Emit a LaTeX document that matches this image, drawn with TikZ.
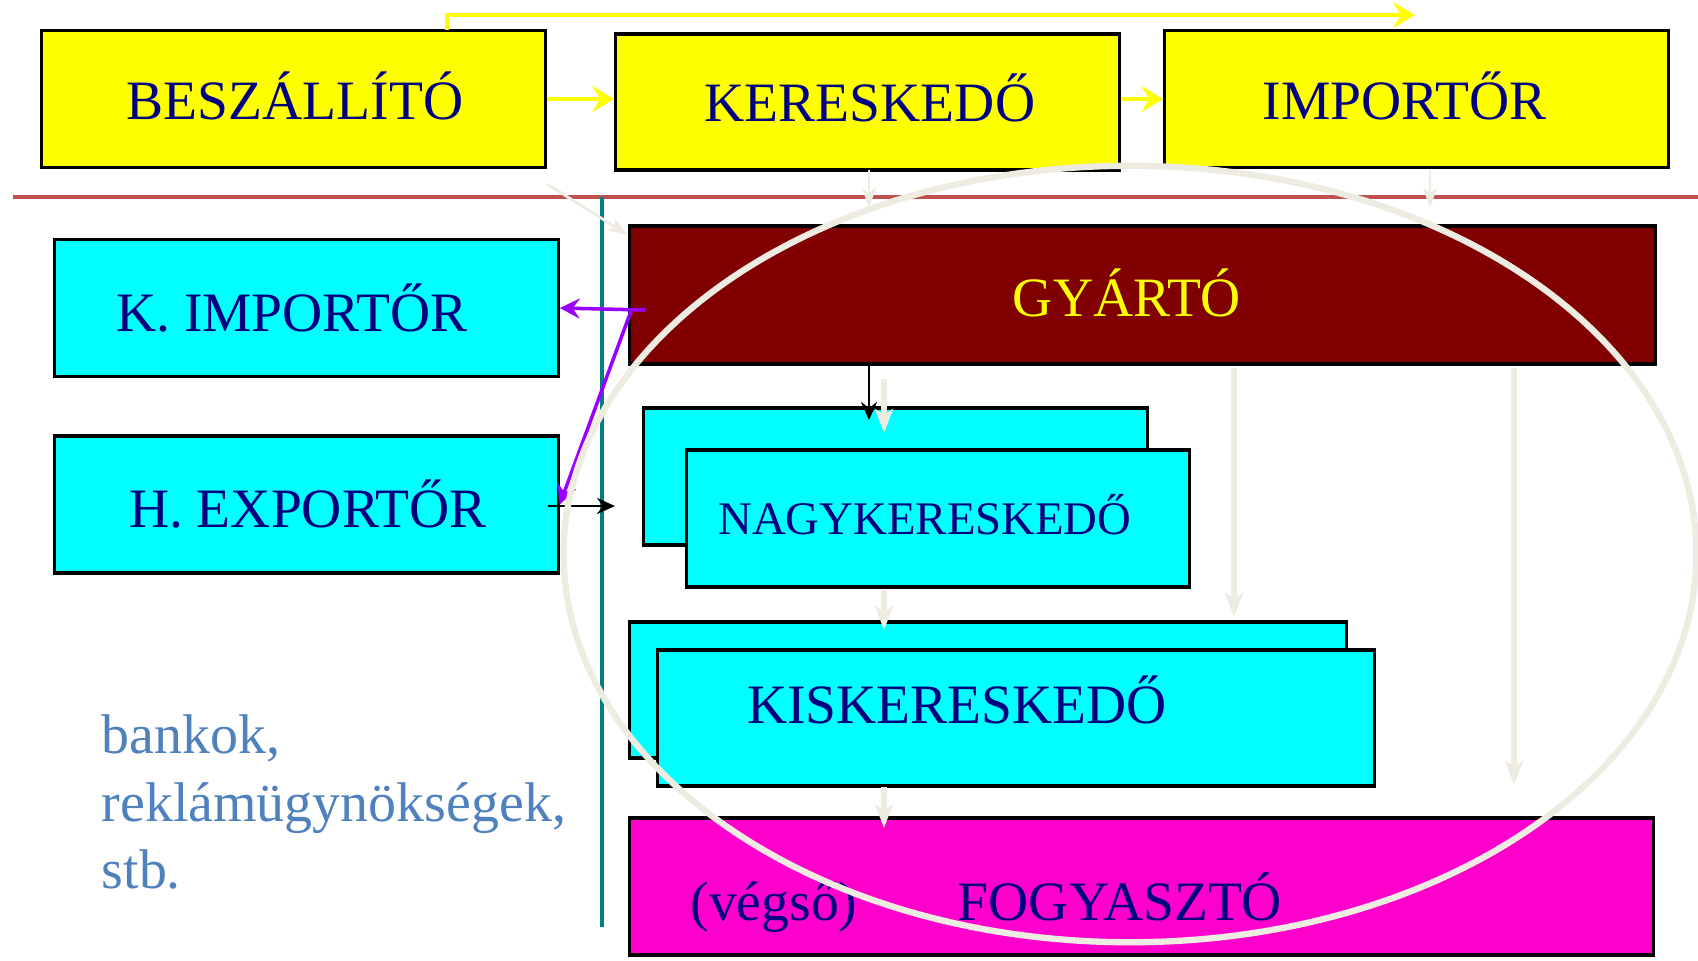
\documentclass[tikz,border=0pt]{standalone}
\usepackage{fontspec}
\setmainfont{Liberation Serif}
\usetikzlibrary{arrows.meta}
\definecolor{navytext}{HTML}{000080}
\definecolor{sunny}{HTML}{FFFF00}
\definecolor{aqua}{HTML}{00FFFF}
\definecolor{makro}{HTML}{800000}
\definecolor{pinkbox}{HTML}{FF00CC}
\definecolor{paleline}{HTML}{EEECE1}
\definecolor{sepred}{HTML}{C0504D}
\definecolor{tealline}{HTML}{008080}
\definecolor{violetarr}{HTML}{9900FF}
\definecolor{sidetext}{HTML}{4F81BD}
\begin{document}
\begin{tikzpicture}
[
  x=0.01cm, y=-0.01cm,
  box/.style={draw=black,line width=0.9pt,inner sep=0pt,minimum width=5.03cm,minimum height=1.37cm},
  ybox/.style={box,fill=sunny},
  cbox/.style={box,fill=aqua},
  lbl/.style={anchor=base,text=navytext,inner sep=0pt,font=\fontsize{15.8}{19}\selectfont},
  side/.style={anchor=base west,text=sidetext,inner sep=0pt,font=\fontsize{15.9}{19}\selectfont},
  yarr/.style={draw=sunny,line width=1.3pt,-{Stealth[length=2.2mm,width=2.6mm,inset=0.8mm]}},
  pale/.style={draw=paleline,line width=1.8pt,-{Stealth[length=2.4mm,width=1.8mm,inset=0.6mm]}},
  palethin/.style={draw=paleline,line width=0.8pt,-{Stealth[length=2mm,width=1.4mm,inset=0.5mm]}},
  varr/.style={draw=violetarr,line width=1pt,-{Stealth[length=2mm,width=2mm,inset=0.7mm]}},
  karr/.style={draw=black,line width=0.8pt,-{Stealth[length=1.8mm,width=1.6mm,inset=0.6mm]}}
]
\useasboundingbox (0,0) rectangle (1698,960);

% top row
\node (besz) at(293.5,99) [ybox] {};
\node (ker) at(867.5,102) [ybox,minimum height=1.36cm] {};
\node (imp) at(1416.5,99) [ybox] {};
\node (beszt) at(295,119) [lbl] {BESZÁLLÍTÓ};
\node (kert) at(870,121) [lbl] {KERESKEDŐ};
\node (impt) at(1404.5,119) [lbl] {IMPORTŐR};

\draw [sepred,line width=1.2pt] (13,197) -- (1698,197);
\draw [tealline,line width=1.2pt] (602,197) -- (602,927);

% left column
\node (kimp) at(306.5,308) [cbox] {};
\node (hexp) at(306.5,504.5) [cbox] {};
\node (kimpt) at(292,331) [lbl] {K. IMPORTŐR};
\node (hexpt) at(308,527) [lbl] {H. EXPORTŐR};

% producer and chain
\node (gy) at(1142.5,295) [box,fill=makro,minimum width=10.25cm,minimum height=1.38cm] {};
\node (gyt) at(1127,316) [lbl,text=sunny] {GYÁRTÓ};

\node (nagyb) at(895.5,476.5) [cbox] {};
\node (nagy) at(938,518.5) [cbox] {};
\node (nagyt) at(925,534) [lbl,font=\fontsize{13.3}{16}\selectfont] {NAGYKERESKEDŐ};

\node (kisb) at(988,690) [cbox,minimum width=7.16cm,minimum height=1.36cm] {};
\node (kis) at(1016,718) [cbox,minimum width=7.16cm,minimum height=1.36cm] {};
\node (kist) at(957,723) [lbl] {KISKERESKEDŐ};

\node (fogy) at(1141.5,886.5) [box,fill=pinkbox,minimum width=10.23cm] {};
\node (vegt) at(774,920) [lbl] {(végső)};
\node (fogyt) at(1120,920) [lbl] {FOGYASZTÓ};

\node (bank) at(101,753) [side] {bankok,};
\node (rekl) at(101,821) [side] {reklámügynökségek,};
\node (stb) at(101,888) [side] {stb.};

% connectors
\coordinate (ytop) at(447,30);
\coordinate (yend) at(1415,15);
\draw [yarr] (ytop) |- (yend);
\draw [yarr] (besz.east) -- (besz.east -| ker.west);
\draw [yarr] (ker.east |- imp.west) -- (imp.west);

\coordinate (d1) at(547,184);
\coordinate (d2) at(628,235);
\draw [palethin] (d1) -- (d2);
\coordinate (k1) at(869,170);
\coordinate (k2) at(869,208);
\draw [palethin] (k1) -- (k2);
\coordinate (i1) at(1430,170);
\coordinate (i2) at(1430,208);
\draw [palethin] (i1) -- (i2);

\coordinate (p1) at(645,310);
\coordinate (p2) at(631,311);
\draw [varr] (p1) -- (kimp.east);
\draw [varr] (p2) -- (hexp.east);

\coordinate (h1) at(548,506);
\coordinate (h2) at(615,506);
\draw [karr] (h1) -- (h2);
\coordinate (g1) at(869,364);
\coordinate (g2) at(869,420);
\draw [karr] (g1) -- (g2);

\coordinate (a1) at(884,379);
\coordinate (a2) at(884,433);
\draw [pale] (a1) -- (a2);
\coordinate (b1) at(884,590);
\coordinate (b2) at(884,630);
\draw [pale] (b1) -- (b2);
\coordinate (c1) at(884,787);
\coordinate (c2) at(884,828);
\draw [pale] (c1) -- (c2);
\coordinate (e1) at(1234,368);
\coordinate (e2) at(1234,617);
\draw [pale] (e1) -- (e2);
\coordinate (f1) at(1514,368);
\coordinate (f2) at(1514,785);
\draw [pale] (f1) -- (f2);

\draw [paleline,line width=1.8pt] (1130,554) ellipse [x radius=5.66cm,y radius=3.88cm];

\end{tikzpicture}
\end{document}
